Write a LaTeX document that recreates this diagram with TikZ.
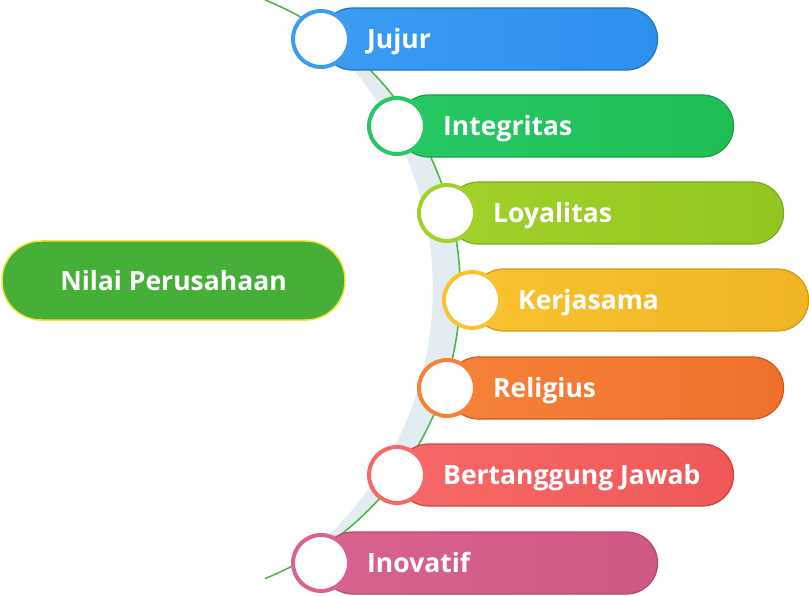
\documentclass[tikz,border=0pt]{standalone}
\usepackage{fontspec}
\setmainfont{Open Sans}
\begin{document}
\begin{tikzpicture}[x=1pt,y=-1pt,
  bar/.style={rounded corners=31pt, minimum width=336pt, minimum height=62pt, anchor=west, line width=1.2pt, inner sep=0pt},
  dot/.style={circle, fill=white, minimum size=56pt, inner sep=0pt, line width=4pt},
  lbl/.style={anchor=base west, text=white, font=\bfseries\fontsize{26.5}{30}\selectfont, inner sep=0pt},
  hub/.style={rounded corners=39pt, minimum width=343pt, minimum height=79pt, fill=hubgreen, draw=hubyellow, line width=1.5pt, text=white, font=\bfseries\fontsize{26.5}{30}\selectfont}
]
\definecolor{hubgreen}{HTML}{46AF37}
\definecolor{hubyellow}{HTML}{F2E33A}
\definecolor{band}{HTML}{E3ECF0}
\definecolor{linegreen}{HTML}{4DB848}
\useasboundingbox (0,0) rectangle (809,596);
\clip (0,0) rectangle (809,596);
% crescent band
\fill[band] (294.3,13.4) arc[start angle=62, end angle=-62, radius=312pt]
   arc[start angle=-53.4, end angle=53.4, radius=343.1pt] -- cycle;
% green arc
\draw[linegreen, line width=1.6pt] (265,0) arc[start angle=68, end angle=-68, radius=312pt];
% hub
\node[hub] (hub) at (173.5,280.5) {Nilai Perusahaan};
% items
\foreach \i/\x/\y/\lc/\rc/\bc/\txt in {
  1/321/39/3A9CF2/2E90EE/2272C0/Jujur,
  2/397/126/25C864/1EBF55/1A9E46/Integritas,
  3/447/213/A2D12A/92C61E/7CA81C/Loyalitas,
  4/472/300/F7C32E/F0B424/D49A14/Kerjasama,
  5/447/388/F6823A/F0702A/C85A20/Religius,
  6/397/475/F86868/F05858/C84545/Bertanggung Jawab,
  7/321/563/DA6290/D05884/B04A70/Inovatif}{
  \definecolor{lc\i}{HTML}{\lc}
  \definecolor{rc\i}{HTML}{\rc}
  \definecolor{bc\i}{HTML}{\bc}
  \node[bar, left color=lc\i, right color=rc\i, draw=bc\i] (bar\i) at (\x,\y) {};
  \node[dot, draw=lc\i] (dot\i) at (\x,\y) {};
  \node[lbl] (txt\i) at ([xshift=46pt,yshift=-9.5pt]dot\i.center) {\txt};
}
\end{tikzpicture}
\end{document}
